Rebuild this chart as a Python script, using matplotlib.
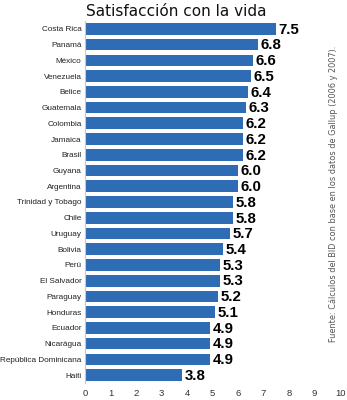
import matplotlib
matplotlib.use("Agg")
import matplotlib.pyplot as plt

countries = ["Costa Rica", "Panamá", "México", "Venezuela", "Belice", "Guatemala",
             "Colombia", "Jamaica", "Brasil", "Guyana", "Argentina", "Trinidad y Tobago",
             "Chile", "Uruguay", "Bolivia", "Perú", "El Salvador", "Paraguay",
             "Honduras", "Ecuador", "Nicarágua", "República Dominicana", "Haiti"]
values = [7.5, 6.8, 6.6, 6.5, 6.4, 6.3, 6.2, 6.2, 6.2, 6.0, 6.0, 5.8,
          5.8, 5.7, 5.4, 5.3, 5.3, 5.2, 5.1, 4.9, 4.9, 4.9, 3.8]
xticks = list(range(0, 11))

title = "Satisfacción con la vida"
source = "Fuente: Cálculos del BID con base en los datos de Gallup (2006 y 2007)."

fig = plt.figure(figsize=(3.47, 4.0), dpi=100)
ax = fig.add_axes([0.245, 0.0425, 0.735, 0.905])

pos = list(range(len(countries)))
ax.barh(pos, values, height=0.74, color="#2e6db5", zorder=2)
for y, v in zip(pos, values):
    ax.text(v + 0.1, y + 0.05, f"{v:.1f}", va="center", ha="left",
            fontsize=10.8, fontweight="bold", color="black", family="Liberation Sans")

ax.set_xlim(0, 10)
ax.set_ylim(len(countries) - 0.5, -0.5)
ax.set_yticks(pos)
ax.set_yticklabels(countries, fontsize=5.85, color="#222222", family="Liberation Sans")
ax.set_xticks(xticks)
ax.set_xticklabels([str(t) for t in xticks], fontsize=6.8, color="#333333",
                   family="Liberation Sans")
ax.tick_params(axis="y", length=0, pad=2.5)
ax.tick_params(axis="x", length=0, pad=4)
for s in ["top", "right", "bottom"]:
    ax.spines[s].set_visible(False)
ax.spines["left"].set_color("#c8c8c8")
ax.spines["left"].set_linewidth(0.8)

fig.text(0.507, 0.972, title, ha="center", va="center", fontsize=11.0, color="#111111")
fig.text(0.96, 0.515, source, rotation=90, ha="center", va="center",
         fontsize=5.9, color="#555555")

fig.savefig("out.png", dpi=100)
